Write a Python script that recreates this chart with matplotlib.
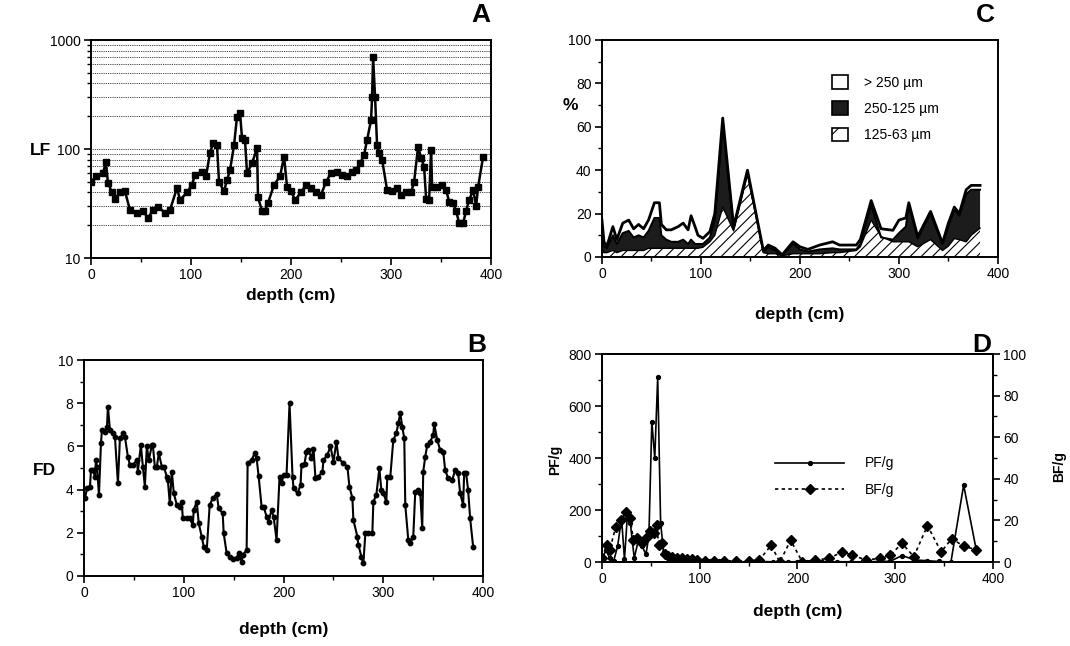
import numpy as np
import matplotlib
matplotlib.use("Agg")
import matplotlib.pyplot as plt
from matplotlib.patches import Patch
from matplotlib.lines import Line2D
from matplotlib.ticker import MultipleLocator, LogLocator, NullFormatter

plt.rcParams["font.family"] = ["Liberation Sans", "DejaVu Sans"]
plt.rcParams["hatch.linewidth"] = 0.8

# --- A: LF (log) vs depth ---
depth_a = [0, 5, 12, 15, 17, 21, 24, 29, 34, 39, 46, 52, 57, 62, 67, 74, 79, 86, 89, 96,
           101, 104, 111, 115, 119, 122, 126, 128, 133, 136, 139, 143, 146, 149, 151, 154,
           156, 161, 166, 167, 171, 174, 177, 183, 189, 193, 196, 200, 204, 210, 215, 220,
           225, 230, 235, 240, 246, 251, 256, 261, 265, 269, 273, 276, 280, 281, 282, 284,
           286, 288, 291, 296, 301, 306, 310, 315, 320, 323, 327, 330, 333, 335, 338, 340,
           341, 346, 351, 355, 358, 362, 365, 368, 372, 375, 378, 382, 385, 387, 392]
lf_a = [50, 56, 60, 76, 49, 40, 35, 40, 41, 27.5, 26, 27, 23.3, 27.5, 29.5, 26, 27.5, 44, 34, 40,
        47, 58, 62, 56, 92, 113, 108, 50, 41, 52, 64, 108, 198, 214, 126, 121,
        60, 74, 102, 36, 27, 27, 32, 47, 56, 85, 45, 41, 34, 40, 47, 44,
        40, 38, 50, 60, 62, 58, 56, 62, 64, 74, 88, 121, 185, 302, 700, 300,
        108, 91, 80, 42, 41, 44, 38, 40, 40, 50, 105, 83, 69, 35, 34, 98,
        45, 45, 47, 42, 33, 32, 27, 21, 21, 27, 34, 42, 30, 45, 85]

# --- B: FD vs depth ---
depth_b = [1, 3, 6, 7, 9, 11, 12, 13, 15, 17, 18, 21, 23, 24, 26, 29, 31, 34, 36, 39,
           41, 44, 46, 49, 53, 54, 57, 59, 61, 63, 65, 68, 69, 71, 73, 75, 78, 80, 83, 84,
           86, 88, 90, 93, 96, 98, 99, 103, 106, 109, 110, 113, 115, 118, 120, 123, 126, 129,
           133, 135, 139, 140, 143, 146, 149, 153, 155, 158, 159, 163, 164, 168, 171, 173,
           175, 178, 180, 183, 185, 188, 190, 193, 196, 198, 200, 203, 206, 209, 210, 214,
           217, 218, 221, 223, 225, 228, 230, 232, 235, 239, 240, 244, 247, 250, 253, 255,
           260, 264, 266, 269, 270, 274, 275, 278, 280, 282, 285, 289, 290, 293, 296, 298,
           300, 303, 304, 307, 310, 313, 315, 317, 319, 321, 322, 325, 327, 330, 332, 335,
           337, 339, 340, 342, 344, 347, 350, 351, 354, 357, 360, 362, 365, 369, 372, 375,
           377, 380, 381, 383, 385, 387, 390]
fd_b = [3.6, 4.06, 4.14, 4.9, 4.9, 4.6, 5.37, 5.06, 3.75, 6.14, 6.76, 6.68, 6.9, 7.84, 6.76,
        6.64, 6.45, 4.29, 6.37, 6.6, 6.45, 5.52, 5.14, 5.14, 5.37, 4.83, 6.06, 5.06, 4.14, 6.0,
        5.37, 6.06, 6.06, 5.06, 5.06, 5.68, 5.06, 5.06, 4.6, 4.44, 3.36, 4.83, 3.83, 3.29, 3.21,
        3.44, 2.67, 2.67, 2.67, 2.36, 3.06, 3.44, 2.44, 1.82, 1.36, 1.2, 3.29, 3.6, 3.8, 3.13,
        2.9, 1.98, 1.05, 0.86, 0.77, 0.82, 1.05, 0.66, 0.97, 1.2, 5.22, 5.37, 5.68, 5.45, 4.63,
        3.21, 3.21, 2.75, 2.52, 3.06, 2.75, 1.67, 4.6, 4.29, 4.68, 4.68, 8.0, 4.6, 4.06, 3.83,
        4.2, 5.14, 5.2, 5.76, 5.83, 5.45, 5.9, 4.52, 4.6, 4.83, 5.37, 5.6, 6.02, 5.29, 6.22,
        5.45, 5.22, 5.06, 4.14, 3.6, 2.59, 1.82, 1.44, 0.9, 0.59, 1.98, 1.98, 1.98, 3.44, 3.75,
        4.98, 3.98, 3.83, 3.44, 4.6, 4.6, 6.3, 6.6, 7.07, 7.53, 6.9, 6.37, 3.29, 1.67, 1.51,
        1.82, 3.9, 3.98, 3.83, 2.21, 4.83, 5.52, 6.06, 6.22, 6.53, 7.04, 6.3, 5.83, 5.76, 4.9,
        4.52, 4.44, 4.9, 4.75, 3.83, 3.29, 4.75, 4.75, 3.98, 2.67, 1.36]

# --- C: grain size fractions (%) ---
depth_c = [0, 2, 5, 11, 15, 21, 27, 32, 37, 42, 47, 53, 58, 60, 65, 70, 77, 82, 87, 90, 94,
           97, 102, 109, 114, 122, 133, 147, 163, 168, 175, 182, 193, 200, 208, 220, 233, 240,
           257, 261, 272, 282, 294, 300, 307, 310, 319, 332, 344, 350, 356, 361, 368, 373, 382]
total_c = [17, 7, 5, 14, 8, 15.6, 17, 13, 15, 13, 17, 25, 25, 15, 12.5, 12.5, 14, 15.6, 12.5, 19,
           14, 10, 8.6, 11.7, 20, 64, 14, 40, 3, 5.5, 4, 1, 7, 4.7, 3.5, 5.5, 7, 5.5,
           5.5, 8, 26, 13, 12.3, 17, 18, 25, 9.4, 21, 6.4, 15.6, 23, 20, 31, 33, 33]
coarse_top_c = [10, 5, 4, 10, 6, 11, 12, 9, 10, 9, 12, 18, 18, 10, 8, 7, 7, 8, 6, 8,
                6, 6, 6, 9, 17, 62, 13, 39, 2.5, 4.5, 3, 0.8, 6, 3.5, 2.5, 3.5, 4, 3.5,
                3.5, 6, 24, 9, 8, 11, 14, 24, 8.5, 20, 6, 14, 22, 19, 29, 31, 31]
fine_c = [4, 2, 2, 3, 2, 3, 3, 3, 3, 3, 4, 4, 4, 4, 4, 4, 4, 4, 4, 4,
          4, 4, 4.5, 7, 10, 23, 12, 38, 2, 1.5, 1.5, 0.5, 1.5, 1.5, 1.5, 1.5, 2, 2,
          3, 4.7, 17, 9.4, 7, 7, 7, 7, 4.7, 8, 3, 5, 8.5, 8, 7, 10, 13.3]
labels_c = ["> 250 \u00b5m", "250-125 \u00b5m", "125-63 \u00b5m"]

# --- D: PF/g and BF/g ---
depth_pf = [0, 4, 8, 12, 16, 20, 23, 26, 29, 33, 37, 41, 45, 48, 51, 54, 57, 60, 63, 67, 72,
            78, 85, 92, 100, 110, 120, 130, 140, 150, 160, 175, 190, 200, 210, 225, 240, 255,
            270, 285, 295, 307, 320, 333, 345, 357, 370, 383]
pf = [10, 45, 15, 5, 60, 170, 10, 180, 150, 15, 80, 60, 30, 100, 540, 400, 710, 150, 40, 25, 15,
      10, 8, 5, 3, 2, 2, 1, 1, 1, 2, 1, 1, 1, 1, 1, 1, 1,
      1, 2, 3, 25, 8, 5, 2, 0, 296, 45]
depth_bf = [0, 5, 8, 14, 19, 25, 29, 32, 36, 41, 46, 49, 53, 56, 58, 61, 64, 68, 72, 77, 82,
            87, 92, 97, 105, 115, 125, 137, 150, 161, 173, 182, 193, 205, 218, 232, 246, 256,
            270, 284, 295, 307, 319, 333, 347, 358, 370, 383]
bf = [2, 8, 6, 16.7, 20, 24, 21, 10.5, 11.6, 9, 12, 15, 14, 18, 8, 9, 4, 3, 2.5, 2, 2,
      1.5, 1.5, 1, 0.5, 0.5, 0.5, 0.5, 0.5, 1, 8, 0, 10.5, 0, 1, 1.7, 4.9, 3.3,
      1, 1.7, 3.3, 9, 2.6, 17.5, 4.9, 11.3, 7.5, 6]

tick_fs = 10
lab_fs = 12.5


def _style(ax):
    for s in ax.spines.values():
        s.set_linewidth(1.4)
    ax.tick_params(direction="out", width=1.2, length=5, pad=2.5, labelsize=tick_fs)
    ax.tick_params(which="minor", direction="out", width=1.0, length=3)
    ax.set_xlim(0, 400)
    ax.xaxis.set_major_locator(MultipleLocator(100))
    ax.xaxis.set_minor_locator(MultipleLocator(50))


fig = plt.figure(figsize=(10.7, 6.46), dpi=100)
ax_a = fig.add_axes([0.085, 0.6006, 0.374, 0.3374])
ax_b = fig.add_axes([0.0785, 0.1084, 0.373, 0.3343])
ax_c = fig.add_axes([0.5626, 0.6022, 0.370, 0.3359])
ax_d = fig.add_axes([0.5626, 0.130, 0.3654, 0.322])

# A
ax_a.set_yscale("log")
ax_a.set_ylim(10, 1000)
grid_vals = [v * m for m in (10, 100) for v in range(2, 10)] + [100, 1000]
for g in grid_vals:
    ax_a.axhline(g, color="black", linestyle=(0, (1, 1.2)), linewidth=0.6, zorder=1)
ax_a.plot(depth_a, lf_a, "-", color="black", linewidth=1.8, marker="s", markersize=3.8, zorder=3)
ax_a.yaxis.set_major_locator(LogLocator(base=10))
ax_a.yaxis.set_minor_locator(LogLocator(base=10, subs=np.arange(2, 10)))
ax_a.yaxis.set_minor_formatter(NullFormatter())
_style(ax_a)
ax_a.set_yticks([10, 100, 1000])
ax_a.set_yticklabels(["10", "100", "1000"])
ax_a.set_xlabel("depth (cm)", fontsize=lab_fs, fontweight="bold", va="center")
ax_a.xaxis.set_label_coords(0.5, -0.17)
ax_a.set_ylabel("LF", fontsize=lab_fs, fontweight="bold", rotation=0, va="center", ha="center")
ax_a.yaxis.set_label_coords(-0.125, 0.495)

# B
ax_b.plot(depth_b, fd_b, "-", color="black", linewidth=1.5, marker="o", markersize=3.2, zorder=3)
ax_b.set_ylim(0, 10)
_style(ax_b)
ax_b.yaxis.set_major_locator(MultipleLocator(2))
ax_b.yaxis.set_minor_locator(MultipleLocator(1))
ax_b.set_xlabel("depth (cm)", fontsize=lab_fs, fontweight="bold", va="center")
ax_b.xaxis.set_label_coords(0.5, -0.25)
ax_b.set_ylabel("FD", fontsize=lab_fs, fontweight="bold", rotation=0, va="center", ha="center")
ax_b.yaxis.set_label_coords(-0.098, 0.49)

# C
dc = np.array(depth_c, dtype=float)
fine = np.array(fine_c, dtype=float)
mid_top = np.array(coarse_top_c, dtype=float)
tot = np.array(total_c, dtype=float)
ax_c.fill_between(dc, mid_top, tot, facecolor="white", edgecolor="none", zorder=2)
ax_c.fill_between(dc, fine, mid_top, facecolor="#1c1c1c", edgecolor="none", zorder=2)
ax_c.fill_between(dc, 0, fine, facecolor="white", edgecolor="black", hatch="///", linewidth=0, zorder=2)
ax_c.plot(dc, fine, color="black", linewidth=1.0, zorder=3)
ax_c.plot(dc, mid_top, color="black", linewidth=1.4, zorder=3)
ax_c.plot(dc, tot, color="black", linewidth=2.0, zorder=3)
ax_c.set_ylim(0, 100)
_style(ax_c)
ax_c.yaxis.set_major_locator(MultipleLocator(20))
ax_c.yaxis.set_minor_locator(MultipleLocator(10))
handles_c = [
    Patch(facecolor="white", edgecolor="black", linewidth=1.2),
    Patch(facecolor="#1c1c1c", edgecolor="black", linewidth=1.2),
    Patch(facecolor="white", edgecolor="black", hatch="/", linewidth=1.2),
]
ax_c.legend(handles_c, labels_c, loc="upper left", bbox_to_anchor=(0.55, 0.895), frameon=False,
            fontsize=10, handlelength=1.1, handleheight=1.1, labelspacing=0.85, handletextpad=1.2)
ax_c.set_xlabel("depth (cm)", fontsize=lab_fs, fontweight="bold", va="center")
ax_c.xaxis.set_label_coords(0.5, -0.267)
ax_c.set_ylabel("%", fontsize=lab_fs, fontweight="bold", rotation=0, va="center", ha="center")
ax_c.yaxis.set_label_coords(-0.081, 0.70)

# D
ax_d2 = ax_d.twinx()
ax_d.plot(depth_pf, pf, "-", color="black", linewidth=1.2, marker="o", markersize=2.8, zorder=3)
ax_d2.plot(depth_bf, bf, color="black", linestyle=(0, (2, 2)), linewidth=1.2, marker="D",
           markersize=5, zorder=3)
ax_d.set_ylim(0, 800)
ax_d2.set_ylim(0, 100)
_style(ax_d)
_style(ax_d2)
ax_d.yaxis.set_major_locator(MultipleLocator(200))
ax_d.yaxis.set_minor_locator(MultipleLocator(100))
ax_d2.yaxis.set_major_locator(MultipleLocator(20))
ax_d2.yaxis.set_minor_locator(MultipleLocator(10))
handles_d = [
    Line2D([], [], color="black", linewidth=1.2, marker="o", markersize=2.8),
    Line2D([], [], color="black", linestyle=(0, (2, 2)), linewidth=1.2, marker="D", markersize=5),
]
ax_d.legend(handles_d, ["PF/g", "BF/g"], loc="center left", bbox_to_anchor=(0.41, 0.41),
            frameon=False, fontsize=10, handlelength=5, handletextpad=1.5, labelspacing=0.9)
ax_d.set_xlabel("depth (cm)", fontsize=lab_fs, fontweight="bold", va="center")
ax_d.xaxis.set_label_coords(0.5, -0.24)
ax_d.set_ylabel("PF/g", fontsize=10, fontweight="bold", rotation=90, va="center", ha="center")
ax_d.yaxis.set_label_coords(-0.12, 0.49)
ax_d2.set_ylabel("BF/g", fontsize=10, fontweight="bold", rotation=90, va="center", ha="center")
ax_d2.yaxis.set_label_coords(1.17, 0.46)

for letter, x, y in (("A", 481, 15), ("B", 477, 345), ("C", 985, 15), ("D", 982, 345)):
    fig.text(x / 1070, 1 - y / 646, letter, fontsize=19, fontweight="bold", ha="center", va="center")

fig.savefig("out.png", dpi=100)
plt.close(fig)
